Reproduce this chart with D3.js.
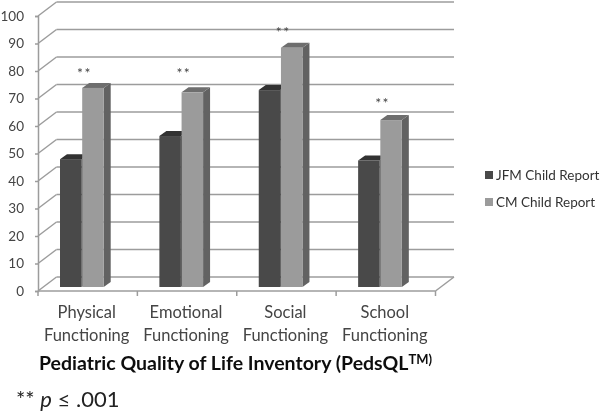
<!DOCTYPE html>
<html>
<head>
<meta charset="utf-8">
<script src="https://cdn.jsdelivr.net/npm/d3@7"></script>
<style>
  html, body { margin: 0; padding: 0; background: #fff; }
  svg { display: block; }
  text { font-family: Lato, "Open Sans", sans-serif; }
</style>
</head>
<body>
<div id="chart"></div>
<script>
const categories = [['Physical', 'Functioning'], ['Emotional', 'Functioning'], ['Social', 'Functioning'], ['School', 'Functioning']];
const seriesNames = ['JFM Child Report', 'CM Child Report'];
const jfmValues = [46.5, 54.9, 71.6, 46];
const cmValues = [72.4, 70.8, 87, 60.7];
const starLevels = [77.5, 77.4, 92.3, 66.5];
const yTicks = [0, 10, 20, 30, 40, 50, 60, 70, 80, 90, 100];

const width = 601, height = 412;
const svg = d3.select('#chart').append('svg')
  .attr('width', width)
  .attr('height', height);

// the photo of the original is a bit soft
svg.append('filter').attr('id', 'soft')
  .append('feGaussianBlur').attr('stdDeviation', 0.4);
const g = svg.append('g').attr('filter', 'url(#soft)');

const x = d3.scaleBand().domain(d3.range(categories.length)).range([38, 435.5]);
const y = d3.scaleLinear().domain([0, 100]).range([291, 16]);

// how far the back wall sits from the axes, and where the bars stand on the floor
const wall = { dx: 18.5, dy: -14 };
const floor = { dx: 4.5, dy: -4 };
const depth = { dx: 7, dy: -5 };
const gridColor = '#9c9c9c';
const gridWidth = 1.5;

// back wall gridlines and the diagonals on the side wall
g.selectAll('.grid').data(yTicks).enter().append('line')
  .attr('class', 'grid')
  .attr('x1', x.range()[0] + wall.dx)
  .attr('x2', x.range()[1] + wall.dx)
  .attr('y1', d => y(d) + wall.dy)
  .attr('y2', d => y(d) + wall.dy)
  .attr('stroke', gridColor)
  .attr('stroke-width', gridWidth);
g.selectAll('.side').data(yTicks).enter().append('line')
  .attr('class', 'side')
  .attr('x1', x.range()[0])
  .attr('x2', x.range()[0] + wall.dx)
  .attr('y1', d => y(d))
  .attr('y2', d => y(d) + wall.dy)
  .attr('stroke', gridColor)
  .attr('stroke-width', gridWidth);
// right edge of the floor
g.append('line')
  .attr('x1', x.range()[1]).attr('x2', x.range()[1] + wall.dx)
  .attr('y1', y(0)).attr('y2', y(0) + wall.dy)
  .attr('stroke', gridColor).attr('stroke-width', gridWidth);

// y axis
const yAxis = g.append('g')
  .attr('transform', `translate(${x.range()[0]},0)`)
  .call(d3.axisLeft(y).tickValues(yTicks).tickSize(3).tickPadding(11));
yAxis.select('.domain').attr('stroke', gridColor).attr('stroke-width', gridWidth);
yAxis.selectAll('.tick line').attr('stroke', gridColor).attr('stroke-width', gridWidth);
yAxis.selectAll('text').attr('font-size', 13.5).attr('font-family', 'Lato').attr('fill', '#444');

// x axis, ticks between the categories
const xEdges = d3.range(categories.length + 1);
g.append('line')
  .attr('x1', x.range()[0]).attr('x2', x.range()[1])
  .attr('y1', y(0)).attr('y2', y(0))
  .attr('stroke', gridColor).attr('stroke-width', gridWidth);
g.selectAll('.xtick').data(xEdges).enter().append('line')
  .attr('class', 'xtick')
  .attr('x1', d => x.range()[0] + d * x.step())
  .attr('x2', d => x.range()[0] + d * x.step())
  .attr('y1', y(0))
  .attr('y2', y(0) + 5)
  .attr('stroke', gridColor).attr('stroke-width', gridWidth);

const labels = g.selectAll('.xlabel').data(categories).enter().append('text')
  .attr('class', 'xlabel')
  .attr('text-anchor', 'middle')
  .attr('fill', '#444')
  .attr('font-size', 16.5);
labels.selectAll('tspan').data((d, i) => d.map(t => ({ t, i }))).enter().append('tspan')
  .attr('x', d => x(d.i) + x.bandwidth() / 2 - 1)
  .attr('y', (d, j) => 318 + j * 22.5)
  .text(d => d.t);

// bars, drawn back to front so the sides overlap properly
const barWidth = 21.5;
const series = [
  { values: jfmValues, front: '#4a4a4a', side: '#3a3a3a', top: '#303030', off: 0 },
  { values: cmValues, front: '#9b9b9b', side: '#626262', top: '#6e6e6e', off: barWidth + 0.7 }
];
series.forEach(s => {
  const bar = g.append('g').selectAll('g').data(s.values).enter().append('g');
  const left = (d, i) => x(i) + 22 + s.off;
  const base = y(0) + floor.dy;
  const topY = d => y(d) + floor.dy;
  bar.append('polygon').attr('fill', s.side)
    .attr('points', (d, i) => {
      const r = left(d, i) + barWidth;
      return [[r, topY(d)], [r + depth.dx, topY(d) + depth.dy], [r + depth.dx, base + depth.dy], [r, base]].join(' ');
    });
  bar.append('polygon').attr('fill', s.top)
    .attr('points', (d, i) => {
      const l = left(d, i);
      return [[l, topY(d)], [l + depth.dx, topY(d) + depth.dy], [l + barWidth + depth.dx, topY(d) + depth.dy], [l + barWidth, topY(d)]].join(' ');
    });
  bar.append('rect').attr('fill', s.front)
    .attr('x', left)
    .attr('y', topY)
    .attr('width', barWidth)
    .attr('height', d => base - topY(d));
});

// significance stars above the CM bars
g.selectAll('.stars').data(starLevels).enter().append('text')
  .attr('class', 'stars')
  .attr('x', (d, i) => x(i) + 46.5)
  .attr('y', d => y(d))
  .attr('text-anchor', 'middle')
  .attr('font-size', 14)
  .attr('letter-spacing', 1.5)
  .attr('fill', '#444')
  .text('**');

// legend
const legend = g.selectAll('.legend').data(seriesNames).enter().append('g')
  .attr('class', 'legend')
  .attr('transform', (d, i) => `translate(485,${175 + i * 27})`);
legend.append('rect')
  .attr('x', 0).attr('y', -4).attr('width', 8).attr('height', 8)
  .attr('fill', (d, i) => series[i].front);
legend.append('text')
  .attr('x', 11).attr('y', 4.5)
  .attr('font-size', 13.5)
  .attr('fill', '#333')
  .text(d => d);

// axis title and footnote
const title = g.append('text')
  .attr('x', 39).attr('y', 370)
  .attr('font-size', 19.5)
  .attr('font-weight', 700)
  .attr('fill', '#111');
title.append('tspan').text('Pediatric Quality of Life Inventory (PedsQL');
title.append('tspan').attr('font-size', 13).attr('dy', -6).text('TM)');

const note = g.append('text')
  .attr('x', 16).attr('y', 407)
  .attr('font-size', 22)
  .attr('fill', '#222');
note.append('tspan').text('** ');
note.append('tspan').attr('font-style', 'italic').text('p');
note.append('tspan').text(' ≤ .001');
</script>
</body>
</html>
